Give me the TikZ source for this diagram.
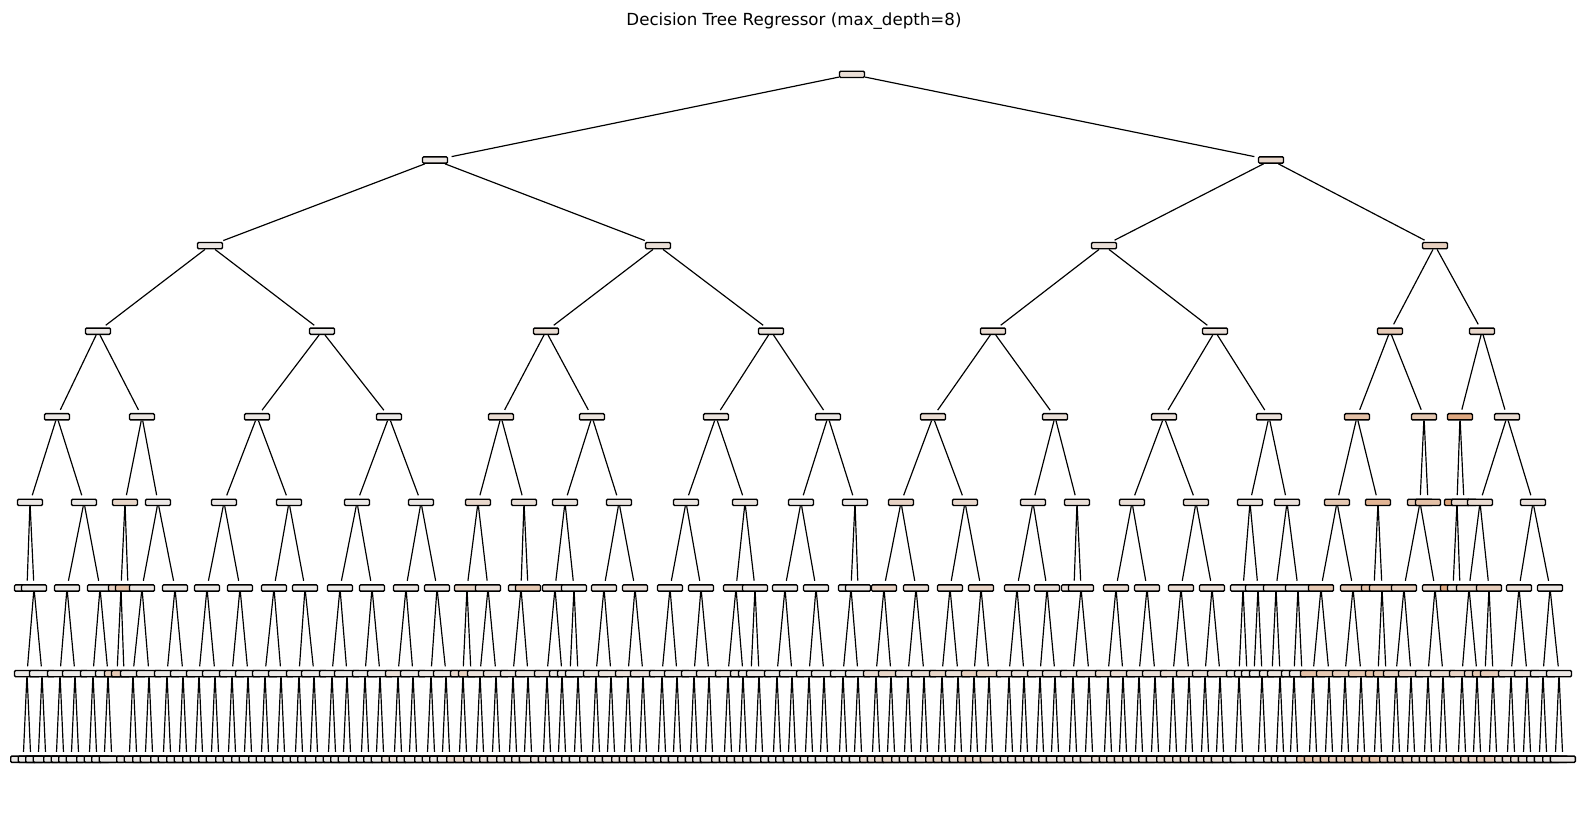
\documentclass[tikz,border=0pt]{standalone}
\usepackage{fontspec}
\setmainfont{DejaVu Sans}
\usepackage{xcolor}
\definecolor{valhue}{HTML}{E58139}
\definecolor{inkblack}{HTML}{000000}
\tikzset{
  tnode/.style ={rectangle, rounded corners=0.8pt, draw=inkblack, fill=valhue!#1!white!93!black,
                 line width=1pt, minimum width=18pt, minimum height=4.5pt, inner sep=0pt},
  tlink/.style ={draw=inkblack, line width=0.85pt, shorten >=2.5pt},
}
% one tree level: #1 level, #2 parent level, #3 list x/parent/tint
\newcommand{\treelevel}[3]{%
  \foreach \x/\p/\tn [count=\i] in {#3} {
    \node[tnode=\tn] (n#1-\i) at (\x,{74.4+85.6*#1}) {};
    \draw[tlink] (n#2-\p) -- (n#1-\i);
  }%
}

\begin{document}
\begin{tikzpicture}[x=0.72pt, y=-0.72pt]
\useasboundingbox[fill=white] (0,0) rectangle (1585,812);

% ---------------- title ----------------
\node[anchor=base, font=\fontsize{12}{14}\selectfont] (title) at (794,25)
      {Decision Tree Regressor (max\_depth=8)};

% ---------------- levels 0 to 4 ----------------
\node[tnode=12] (n0-1) at (852,74.4) {};
\treelevel{1}{0}{435/1/5, 1271/1/18}
\treelevel{2}{1}{210/1/5, 658/1/12, 1104/2/12, 1435/2/25}
\treelevel{3}{2}{98/1/4, 322/1/3, 546/2/14, 771/2/8, 993/3/15, 1215/3/10, 1390/4/30, 1482/4/18}
\treelevel{4}{3}{57/1/4, 142/1/6, 257/2/5, 389/2/3, 501/3/15, 592/3/8, 716/4/8, 828/4/4,
  933/5/15, 1055/5/12, 1164/6/10, 1269/6/10, 1357/7/38, 1424/7/32, 1460/8/58, 1507/8/15}

% ---------------- level 5 ----------------
\treelevel{5}{4}{30/1/4, 84/1/3, 125/2/20, 158/2/4, 224/3/4, 289/3/3, 357/4/2, 421/4/4,
  478/5/18, 524/5/12, 565/6/8, 619/6/6, 686/7/6, 745/7/8, 801/8/3, 855/8/4,
  901/9/22, 965/9/18, 1033/10/10, 1077/10/12, 1132/11/12, 1196/11/12, 1250/12/8, 1287/12/10,
  1337/13/32, 1378/13/48, 1420/14/30, 1428/14/38, 1457/15/62, 1464/15/15, 1480/16/15, 1533/16/10}

% ---------------- level 6 ----------------
\treelevel{6}{5}{27/1/3, 34/1/3, 67/2/3, 100/2/3, 121/3/22, 128/3/38, 142/4/5, 175/4/3,
  207/5/3, 240/5/3, 274/6/3, 305/6/3, 340/7/3, 372/7/3, 406/8/5, 437/8/5,
  467/9/20, 488/9/10, 521/10/8, 528/10/32, 555/11/10, 574/11/3, 604/12/8, 635/12/10,
  670/13/5, 701/13/5, 736/14/8, 755/14/5, 785/15/3, 816/15/3, 851/16/3, 858/16/5,
  884/17/22, 916/17/12, 950/18/15, 981/18/22, 1017/19/10, 1047/19/10, 1074/20/10, 1081/20/10,
  1116/21/15, 1147/21/12, 1181/22/15, 1212/22/12, 1243/23/5, 1258/23/3, 1276/24/8, 1298/24/5,
  1321/25/32, 1353/25/28, 1374/26/38, 1382/26/32, 1404/27/25, 1435/27/15, 1453/29/58, 1460/29/15,
  1469/31/20, 1489/31/28, 1519/32/12, 1550/32/5}

% ---------------- levels 7 and 8 (x/parent/tint/split) ----------------
\foreach \x/\p/\tn/\fl [count=\i] in {
  27/2/3/1, 42/2/3/1, 60/3/3/1, 75/3/3/1, 93/4/3/1, 108/4/3/1, 117/5/25/0, 124/5/30/0,
  133/7/5/1, 149/7/5/1, 167/8/3/1, 183/8/3/1, 199/9/3/1, 215/9/3/1, 232/10/3/1, 248/10/3/1,
  265/11/3/1, 281/11/3/1, 299/12/3/1, 314/12/3/1, 332/13/3/1, 347/13/3/1, 365/14/3/1, 380/14/3/1,
  398/15/12/1, 413/15/5/1, 431/16/5/1, 446/16/5/1, 463/17/18/1, 471/17/25/0, 480/18/10/1, 496/18/10/1,
  513/19/8/1, 528/19/8/1, 547/21/10/1, 562/21/5/1, 570/22/5/0, 578/22/3/1, 596/23/8/1, 611/23/8/1,
  628/24/10/1, 643/24/10/1, 662/25/5/1, 677/25/5/1, 694/26/5/1, 709/26/5/1, 728/27/8/1, 743/27/8/1,
  751/28/5/0, 759/28/5/1, 777/29/3/1, 792/29/3/1, 809/30/3/1, 824/30/3/1, 843/31/3/1, 858/31/3/1,
  876/33/15/1, 891/33/20/1, 908/34/10/1, 924/34/12/1, 942/35/20/1, 958/35/12/1, 974/36/25/1, 989/36/20/1,
  1009/37/10/1, 1024/37/10/1, 1040/38/10/1, 1055/38/10/1, 1073/40/10/1, 1089/40/10/1,
  1108/41/15/1, 1123/41/15/1, 1139/42/12/1, 1155/42/12/1, 1173/43/15/1, 1189/43/15/1,
  1205/44/12/1, 1220/44/12/1, 1239/45/5/1, 1247/45/5/0, 1254/46/3/0, 1262/46/3/1,
  1272/47/8/0, 1280/47/8/1, 1294/48/5/1, 1302/48/5/0, 1313/49/38/1, 1329/49/32/1,
  1345/50/28/1, 1361/50/32/1, 1378/52/38/1, 1386/52/32/0, 1396/53/22/1, 1411/53/22/1,
  1428/54/15/1, 1443/54/15/1, 1462/57/22/1, 1477/57/22/1, 1485/58/32/0, 1493/58/28/1,
  1511/59/12/1, 1527/59/12/1, 1543/60/5/1, 1559/60/5/1} {
  \node[tnode=\tn] (n7-\i) at (\x,673.6) {};
  \draw[tlink] (n6-\p) -- (n7-\i);
  \ifnum\fl=1
    \node[tnode=\tn] (n8-\i-l) at (\x-3.8,759.2) {};
    \node[tnode=\tn] (n8-\i-r) at (\x+3.8,759.2) {};
    \draw[tlink] (n7-\i) -- (n8-\i-l);
    \draw[tlink] (n7-\i) -- (n8-\i-r);
  \fi
}

\end{tikzpicture}
\end{document}
